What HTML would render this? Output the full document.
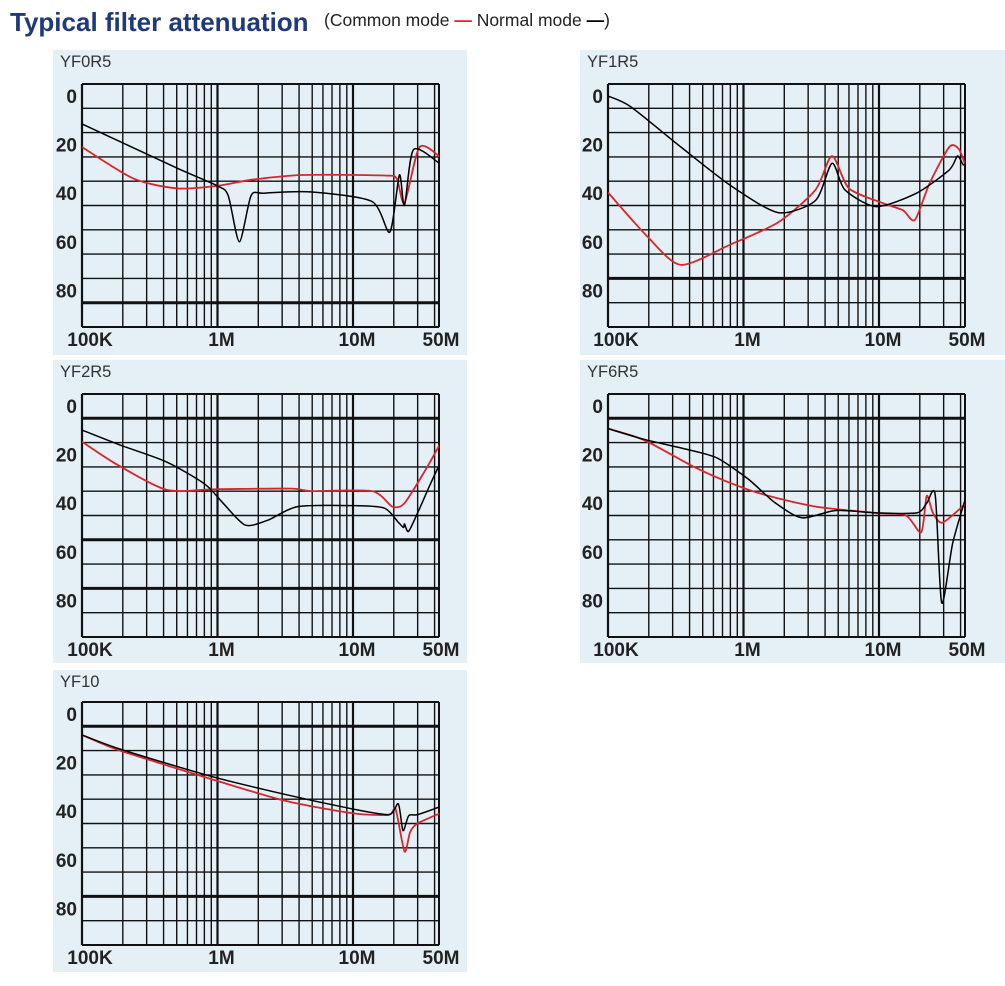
<!DOCTYPE html>
<html><head><meta charset="utf-8"><style>
body{margin:0;background:#fff;width:1005px;height:986px;overflow:hidden;font-family:"Liberation Sans",Arial,sans-serif}
svg{position:absolute;left:0;top:0}
</style></head><body>
<svg id="s" width="1005" height="986">
<defs id="defs"></defs>
<text x="10" y="31" font-size="26" font-weight="bold" fill="#1e3a7c">Typical filter attenuation</text>
<text x="324" y="26" font-size="17.5" fill="#222">(Common mode <tspan fill="#d22" font-weight="bold">—</tspan> Normal mode <tspan fill="#000" font-weight="bold">—</tspan>)</text>
</svg>
<script>
const chartNames=["YF0R5","YF1R5","YF2R5","YF6R5","YF10"];
const xTickLabels=["100K","1M","10M","50M"];
const xTickValues=[0.1,1,10,50];
const yTickValues=[0,20,40,60,80];
// data: [freq MHz, attenuation dB]
const yf0r5Common=[[0.1,21],[0.24,34],[0.5,38],[1.0,37],[1.77,34.5],[4.2,32.5],[17,32.7],[21,34],[24,44],[31,21],[45,25.6]];
const yf0r5Normal=[[0.1,11.5],[0.5,29.6],[1.0,37],[1.2,41],[1.45,60],[1.77,41],[2.2,40],[5,39.5],[13.8,43.4],[18.7,56],[22,32.5],[24,45],[28,22],[45,28.4]];
const yf1r5Common=[[0.1,39.7],[0.195,57.8],[0.345,69.5],[0.81,61],[1.8,52],[3.4,38.6],[4.5,24.7],[6,38],[10.6,44],[15,47],[18.4,51],[23.6,36],[33,21],[39,22],[45,31]];
const yf1r5Normal=[[0.1,0],[0.147,4.4],[0.345,21],[0.81,37],[1.8,48],[3.4,43],[4.5,27.7],[5.6,38.6],[9.5,45.5],[18.9,40],[33,30.4],[38,24.7],[42,28.4],[45,26.3]];
const yf2r5Common=[[0.1,14.7],[0.18,24],[0.42,34.5],[1.0,34.2],[3.5,34],[4.9,35],[13.8,35],[19.5,41.4],[24,40],[34.5,26],[44.5,15]];
const yf2r5Normal=[[0.1,9.9],[0.19,16],[0.42,23],[0.8,32],[1.1,40],[1.6,49],[2.35,47],[3.9,41.4],[9.8,41],[17,42],[21.7,48],[23.6,50],[24,48.5],[25.7,51.6],[30,44],[36.6,33],[44.5,23]];
const yf6r5Common=[[0.1,9.3],[0.184,14],[0.43,25],[0.81,31.8],[1.44,36.6],[3.4,41.4],[9.5,44],[15.8,45],[20.5,52],[22.5,37],[25,44],[29.5,48],[44,40]];
const yf6r5Normal=[[0.1,9.3],[0.184,13.7],[0.43,18.5],[0.65,21.6],[1.08,30],[1.7,39.7],[2.7,46],[4.8,43],[9.5,44],[19,44],[22.5,40],[26,36.6],[29,81],[35,56.4],[44,37]];
const yf10Common=[[0.1,8.6],[0.19,15],[0.89,26.7],[3.1,35.6],[9.8,40.8],[18.4,41.5],[20.6,39],[24,56.6],[26.4,48.6],[30,45],[44.5,40.7]];
const yf10Normal=[[0.1,8.6],[0.19,14.4],[0.89,25.6],[3.1,33],[9.8,39],[18.4,41.4],[21.6,37],[23.4,48],[25.8,41.8],[30,41.4],[44.5,38]];
const commonSeries=[yf0r5Common,yf1r5Common,yf2r5Common,yf6r5Common,yf10Common];
const normalSeries=[yf0r5Normal,yf1r5Normal,yf2r5Normal,yf6r5Normal,yf10Normal];
const thickRows=[[9],[8],[1,6,8],[1],[1,8]];

const layout=[{px:53,py:50,pw:414,ph:305,x0:82,y0:84},{px:580,py:50,pw:425,ph:305,x0:608,y0:84},
{px:53,py:360,pw:414,ph:303,x0:82,y0:394},{px:580,py:360,pw:425,ph:303,x0:608,y0:394},{px:53,py:670,pw:414,ph:302,x0:82,y0:702}];
const NS="http://www.w3.org/2000/svg",svg=document.getElementById('s'),defs=document.getElementById('defs');
function mk(t,a,p){const e=document.createElementNS(NS,t);for(const k in a)e.setAttribute(k,a[k]);(p||svg).appendChild(e);return e;}
const PW=357,PH=243,DEC=135.5,ROW=24.3,PXDB=2.43;
function smooth(pts){let d="M"+pts[0][0]+","+pts[0][1];for(let i=0;i<pts.length-1;i++){const p0=pts[i-1]||pts[i],p1=pts[i],p2=pts[i+1],p3=pts[i+2]||p2;
const c1=[p1[0]+(p2[0]-p0[0])/8,p1[1]+(p2[1]-p0[1])/8],c2=[p2[0]-(p3[0]-p1[0])/8,p2[1]-(p3[1]-p1[1])/8];
d+=" C"+c1[0].toFixed(1)+","+c1[1].toFixed(1)+" "+c2[0].toFixed(1)+","+c2[1].toFixed(1)+" "+p2[0].toFixed(1)+","+p2[1].toFixed(1);}return d;}
layout.forEach((L,ci)=>{
 const g=mk('g',{});
 
 
 const cl=mk('clipPath',{id:'clip'+ci},defs);
 mk('rect',{x:L.x0,y:L.y0,width:PW,height:PH},cl);
 const bg=mk('rect',{x:L.px,y:L.py,width:L.pw,height:L.ph,fill:'#e4f0f5'},g);
 
 
 const t=mk('text',{x:L.px+7,y:L.py+17,'font-size':16.5,fill:'#333'},g);t.textContent=chartNames[ci];
 
 
 const X=f=>L.x0+Math.log10(f/0.1)*DEC, Y=db=>L.y0+12+db*PXDB;
 for(let dec=0.1;dec<100;dec*=10)for(let m=1;m<10;m++){const x=X(dec*m);if(x>L.x0+PW+0.5)break;
  const ln=mk('line',{x1:x,x2:x,y1:L.y0,y2:L.y0+PH,stroke:'#111','stroke-width':(m==1?2.2:1.4)},g);
  
  }
 mk('line',{x1:L.x0+PW,x2:L.x0+PW,y1:L.y0,y2:L.y0+PH,stroke:'#111','stroke-width':2},g);
 for(let r=0;r<=10;r++){const y=L.y0+r*ROW;const th=thickRows[ci].includes(r)?3:(r==0||r==10?2:1.4);
  const ln=mk('line',{x1:L.x0,x2:L.x0+PW,y1:y,y2:y,stroke:'#111','stroke-width':th},g);
  
  }
 yTickValues.forEach(v=>{const tx=mk('text',{x:L.x0-5,y:Y(v)+7,'font-size':19,'font-weight':'bold','text-anchor':'end',fill:'#222'},g);tx.textContent=v;
  
  });
 xTickLabels.forEach((lb,i)=>{let x=Math.min(X(xTickValues[i]),L.x0+PW);x+= i==0?8:(i==3?2:4);
  const tx=mk('text',{x:x,y:L.y0+PH+19,'font-size':19,'font-weight':'bold','text-anchor':'middle',fill:'#222'},g);tx.textContent=lb;
  
  });
 const cp=mk('path',{d:smooth(commonSeries[ci].map(p=>[X(p[0]),Y(p[1])])),fill:'none',stroke:'#d8262e','stroke-width':1.8,'clip-path':'url(#clip'+ci+')'},g);
 
 
 const np=mk('path',{d:smooth(normalSeries[ci].map(p=>[X(p[0]),Y(p[1])])),fill:'none',stroke:'#000','stroke-width':1.5,'clip-path':'url(#clip'+ci+')'},g);
 
 
});
</script>
</body></html>
